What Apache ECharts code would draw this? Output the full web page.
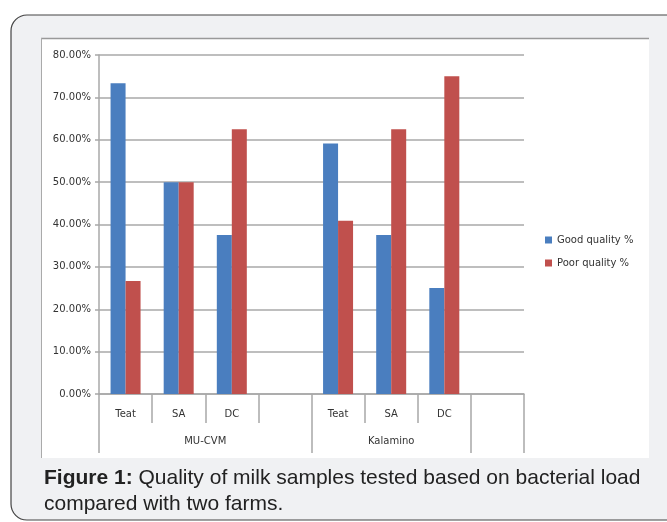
<!DOCTYPE html>
<html>
<head>
<meta charset="utf-8">
<script src="https://cdn.jsdelivr.net/npm/echarts@6/dist/echarts.min.js"></script>
<style>
  html, body { margin: 0; padding: 0; background: #fff; }
  #chart { width: 667px; height: 522px; }
</style>
</head>
<body>
<div id="chart"></div>
<script>
// categories (blank slot after each farm, as in the original sheet)
var samples = ['Teat', 'SA', 'DC', '', 'Teat', 'SA', 'DC', ''];
var farms = ['MU-CVM', 'Kalamino'];
var farmCentres = [2, 5.5];
var farmBounds = [0, 4, 7, 8];

// values in %
var goodQuality = [73.33, 50, 37.5, null, 59.09, 37.5, 25, null];
var poorQuality = [26.67, 50, 62.5, null, 40.91, 62.5, 75, null];

var yTicks = [0, 10, 20, 30, 40, 50, 60, 70, 80];

var lineGrey = '#a8a8a8';
var txt = '#333';
var chartFont = 'DejaVu Sans';

var chart = echarts.init(document.getElementById('chart'));
chart.setOption({
  animation: false,
  textStyle: { fontFamily: chartFont },
  graphic: [
    { type: 'rect', z: -10, shape: { x: 11, y: 15, width: 700, height: 505, r: 16 },
      style: { fill: '#f0f1f3', stroke: '#444', lineWidth: 1.2 } },
    { type: 'rect', z: -9, shape: { x: 41, y: 38, width: 608, height: 420 },
      style: { fill: '#fff' } },
    { type: 'line', z: -8, shape: { x1: 41, y1: 38.5, x2: 649, y2: 38.5 },
      style: { stroke: '#999', lineWidth: 1.5 } },
    { type: 'line', z: -8, shape: { x1: 41.5, y1: 38, x2: 41.5, y2: 458 },
      style: { stroke: '#aaa', lineWidth: 1 } }
  ],
  title: {
    left: 44,
    top: 465,
    padding: 0,
    text: '{b|Figure 1:} Quality of milk samples tested based on bacterial load\ncompared with two farms.',
    textStyle: {
      fontFamily: 'Liberation Sans',
      fontSize: 21,
      fontWeight: 'normal',
      color: '#222',
      lineHeight: 26,
      rich: {
        b: { fontFamily: 'Liberation Sans', fontSize: 21, fontWeight: 'bold', color: '#222', lineHeight: 26 }
      }
    }
  },
  legend: {
    orient: 'vertical',
    left: 540,
    top: 230,
    itemWidth: 7,
    itemHeight: 7,
    itemGap: 13,
    itemTextGap: 4,
    icon: 'rect',
    textStyle: { fontSize: 10, color: txt, fontFamily: chartFont },
    data: ['Good quality %', 'Poor quality %']
  },
  grid: { left: 99, right: 143, top: 55, bottom: 128 },
  xAxis: [
    {
      type: 'category',
      position: 'bottom',
      data: samples,
      axisLine: { show: true, lineStyle: { color: lineGrey, width: 1.5 } },
      axisTick: { show: true, interval: 0, length: 29, lineStyle: { color: lineGrey, width: 1.5 } },
      axisLabel: { interval: 0, margin: 15, fontSize: 10, color: txt },
      splitLine: { show: false }
    },
    {
      type: 'value',
      position: 'bottom',
      min: 0,
      max: 8,
      axisLine: { show: false },
      axisTick: { show: true, customValues: farmBounds, length: 59, lineStyle: { color: lineGrey, width: 1.5 } },
      axisLabel: {
        customValues: farmCentres,
        margin: 42,
        fontSize: 10,
        color: txt,
        formatter: function (v) {
          var i = farmCentres.indexOf(v);
          return i >= 0 ? farms[i] : '';
        }
      },
      splitLine: { show: false }
    }
  ],
  yAxis: {
    type: 'value',
    min: yTicks[0],
    max: yTicks[yTicks.length - 1],
    interval: 10,
    axisLine: { show: true, lineStyle: { color: lineGrey, width: 1.5 } },
    axisTick: { show: true, length: 4, lineStyle: { color: lineGrey, width: 1.5 } },
    axisLabel: {
      margin: 8,
      fontSize: 10,
      color: txt,
      formatter: function (v) { return v.toFixed(2) + '%'; }
    },
    splitLine: { show: true, lineStyle: { color: lineGrey, width: 1.5 } }
  },
  series: [
    {
      name: 'Good quality %',
      type: 'bar',
      xAxisIndex: 0,
      barWidth: 15,
      barGap: '0%',
      itemStyle: { color: '#4a7ebf' },
      data: goodQuality
    },
    {
      name: 'Poor quality %',
      type: 'bar',
      xAxisIndex: 0,
      barWidth: 15,
      barGap: '0%',
      itemStyle: { color: '#c0504d' },
      data: poorQuality
    }
  ]
});
</script>
</body>
</html>
